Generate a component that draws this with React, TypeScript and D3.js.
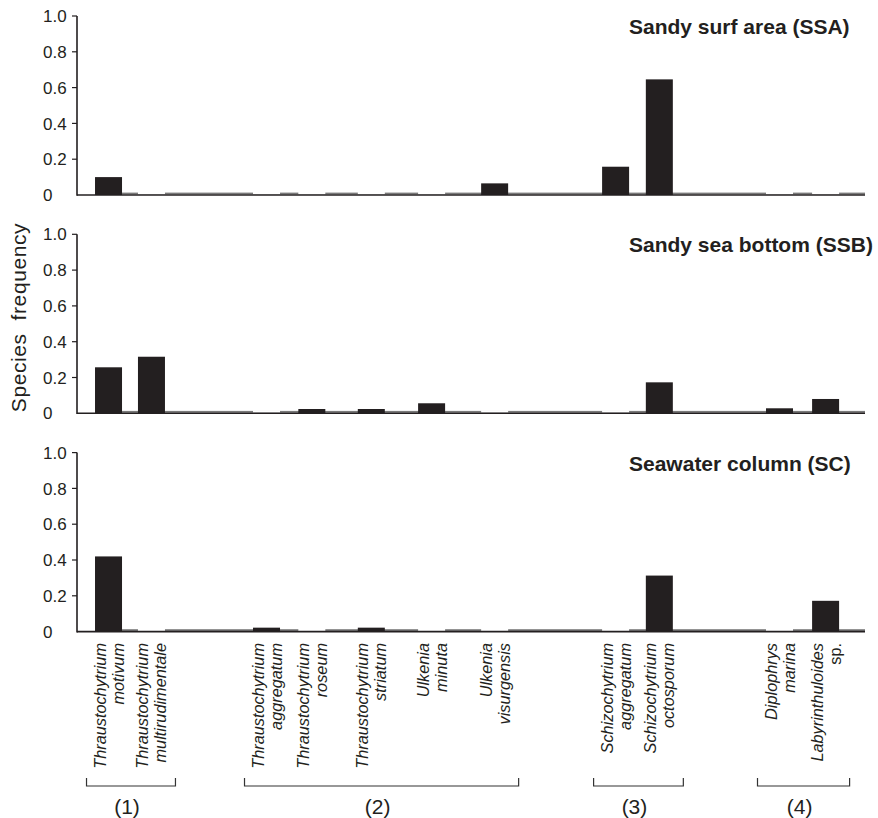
import React from "react";
import * as d3 from "d3";

// ---- data ----
const speciesGenus = [
  "Thraustochytrium", "Thraustochytrium", "Thraustochytrium", "Thraustochytrium", "Thraustochytrium",
  "Ulkenia", "Ulkenia", "Schizochytrium", "Schizochytrium", "Diplophrys", "Labyrinthuloides",
];
const speciesEpithet = [
  "motivum", "multirudimentale", "aggregatum", "roseum", "striatum",
  "minuta", "visurgensis", "aggregatum", "octosporum", "marina", "sp.",
];
// category placement along the x axis (slot units)
const speciesSlot = [0.8, 1.89, 4.81, 5.96, 7.47, 9.0, 10.6, 13.67, 14.78, 17.83, 19.0];
const slotDomain = [0, 20];

const panelTitles = ["Sandy surf area (SSA)", "Sandy sea bottom (SSB)", "Seawater column (SC)"];
const ssaValues = [0.10, 0, 0, 0, 0, 0, 0.065, 0.158, 0.646, 0, 0];
const ssbValues = [0.257, 0.316, 0, 0.024, 0.024, 0.056, 0, 0, 0.173, 0.028, 0.08];
const scValues = [0.42, 0, 0.022, 0, 0.022, 0, 0, 0, 0.313, 0, 0.172];
const panelValues = [ssaValues, ssbValues, scValues];

const yTicks = [0, 0.2, 0.4, 0.6, 0.8, 1.0];
const yTickLabels = ["0", "0.2", "0.4", "0.6", "0.8", "1.0"];

const groupLabels = ["(1)", "(2)", "(3)", "(4)"];
const groupFirst = [0, 2, 7, 9];
const groupLast = [1, 6, 8, 10];

const yAxisTitle = "Species  frequency";

// ---- layout ----
const W = 878;
const H = 818;
const axisX = 77;
const axisEnd = 865;
const panelTop0 = 16;
const panelStep = 218.3;
const panelH = 179;
const barW = 27;
const font = "'Liberation Sans', Arial, Helvetica, sans-serif";
const ink = "#231f20";

export default function App() {
  const x = d3.scaleLinear().domain(slotDomain).range([axisX, axisEnd]);

  return (
    <svg
      width={W}
      height={H}
      viewBox={`0 0 ${W} ${H}`}
      style={{ position: "absolute", left: 0, top: 0, display: "block", background: "#fff" }}
      fontFamily={font}
    >
      <rect x={0} y={0} width={W} height={H} fill="#fff" />
      {panelValues.map((vals, pi) => {
        const top = panelTop0 + pi * panelStep;
        const y = d3.scaleLinear().domain([0, 1]).range([top + panelH, top]);
        const y0 = y(0);
        const traceStart = x(speciesSlot[0]) + barW / 2;
        return (
          <g key={pi}>
            {/* trace along baseline */}
            <rect x={traceStart} y={y0 - 2.4} width={axisEnd - traceStart} height={1.8} fill="#7a7a7a" />
            {vals.map((v, i) =>
              v === 0 ? (
                <rect key={"z" + i} x={x(speciesSlot[i]) - barW / 2} y={y0 - 3} width={barW} height={2.4} fill="#fff" />
              ) : null
            )}
            {/* bars */}
            {vals.map((v, i) =>
              v > 0 ? (
                <rect
                  key={"b" + i}
                  x={x(speciesSlot[i]) - barW / 2}
                  y={y(v)}
                  width={barW}
                  height={y0 - y(v)}
                  fill={ink}
                />
              ) : null
            )}
            {/* axes */}
            <line x1={axisX} x2={axisEnd} y1={y0} y2={y0} stroke={ink} strokeWidth={1.6} />
            <line x1={axisX} x2={axisX} y1={y(1)} y2={y0 + 0.8} stroke={ink} strokeWidth={1.6} />
            {yTicks.map((t, k) => (
              <g key={"t" + k}>
                {t > 0 ? (
                  <line x1={axisX - 5} x2={axisX} y1={y(t)} y2={y(t)} stroke={ink} strokeWidth={1.2} />
                ) : null}
                <text x={43} y={y(t)} dy="0.36em" fontSize={17} fill={ink}>
                  {yTickLabels[k]}
                </text>
              </g>
            ))}
            <text x={629} y={top + 18} fontSize={21} fontWeight="bold" fill={ink}>
              {panelTitles[pi]}
            </text>
          </g>
        );
      })}

      {/* y axis title */}
      <text
        transform={`translate(26, 317.5) rotate(-90)`}
        textAnchor="middle"
        fontSize={21}
        fill={ink}
        style={{ whiteSpace: "pre" }}
        letterSpacing={0.6}
      >
        {yAxisTitle}
      </text>

      {/* species labels */}
      {speciesGenus.map((g, i) => {
        const cx = x(speciesSlot[i]);
        const ep = speciesEpithet[i];
        return (
          <g key={"l" + i}>
            <text
              transform={`translate(${cx - 3}, 643) rotate(-90)`}
              textAnchor="end"
              fontSize={16.3}
              fontStyle="italic"
              fill={ink}
            >
              {g}
            </text>
            <text
              transform={`translate(${cx + 15}, 643) rotate(-90)`}
              textAnchor="end"
              fontSize={16.3}
              fontStyle={ep === "sp." ? "normal" : "italic"}
              fill={ink}
            >
              {ep}
            </text>
          </g>
        );
      })}

      {/* group brackets */}
      {groupLabels.map((lab, gi) => {
        const x1 = x(speciesSlot[groupFirst[gi]]) - 22;
        const x2 = x(speciesSlot[groupLast[gi]]) + 24;
        return (
          <g key={"g" + gi}>
            <path
              d={`M${x1},778 V786 H${x2} V778`}
              fill="none"
              stroke="#333"
              strokeWidth={1.2}
            />
            <text x={(x1 + x2) / 2 - 4} y={814} textAnchor="middle" fontSize={21} fill={ink}>
              {lab}
            </text>
          </g>
        );
      })}
    </svg>
  );
}
